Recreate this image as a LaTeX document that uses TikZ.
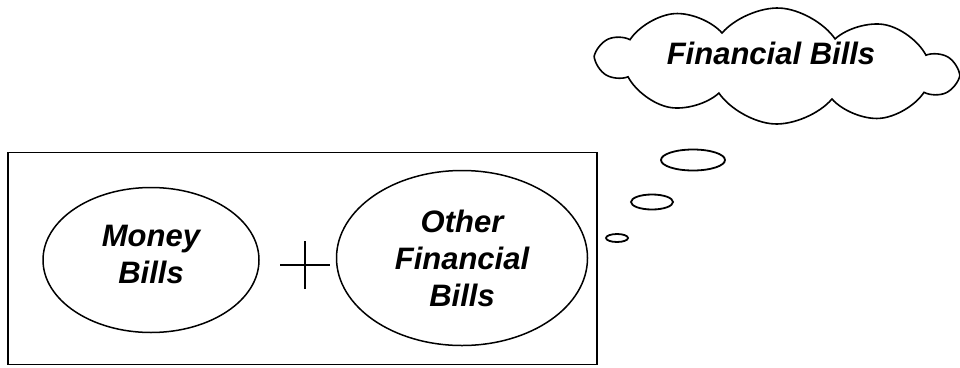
\documentclass[tikz,border=0pt]{standalone}
\usepackage{fontspec}
\setmainfont{Liberation Sans}
\usetikzlibrary{shapes.geometric, shapes.symbols, positioning}

\begin{document}
\begin{tikzpicture}[
  x=1pt, y=-1pt,
  txt/.style={font=\bfseries\itshape\fontsize{31}{37}\selectfont, align=center},
  bill/.style={ellipse, draw, line width=1.5pt, inner sep=0pt, txt},
  frame/.style={rectangle, draw, line width=1.9pt, inner sep=0pt},
  thought/.style={cloud, draw, line width=1.6pt, cloud puffs=10, cloud puff arc=105, cloud ignores aspect, inner sep=0pt},
  bubble/.style={ellipse, draw, line width=1.8pt, inner sep=0pt},
  plus/.style={line width=1.2pt}
]
  \useasboundingbox (0,0) rectangle (960,367);

  % Nodes
  \node[frame, minimum width=589pt, minimum height=212pt] (frame) at (302.5,258.5) {};
  \node[bill, minimum width=216pt, minimum height=145pt, text depth=12pt] (money) at (151,260) {Money\\Bills};
  \node[bill, minimum width=251pt, minimum height=175pt] (other) at (462,258) {Other\\Financial\\Bills};
  \coordinate (sum) at (305,265);

  \node[thought, minimum width=358pt, minimum height=116pt, rotate=-3] (cloud) at (777,66) {};
  \node[txt] (cloudtext) at (771,53) {Financial Bills};

  \node[bubble, minimum width=64pt, minimum height=21pt] (big) at (693,160) {};
  \node[bubble, minimum width=42pt, minimum height=15pt] (mid) at (652,202) {};
  \node[bubble, minimum width=22pt, minimum height=8pt] (small) at (617,238) {};

  % Paths
  \draw[plus] ([xshift=-25pt]sum) -- ([xshift=25pt]sum);
  \draw[plus] ([yshift=-24pt]sum) -- ([yshift=24pt]sum);
\end{tikzpicture}
\end{document}
